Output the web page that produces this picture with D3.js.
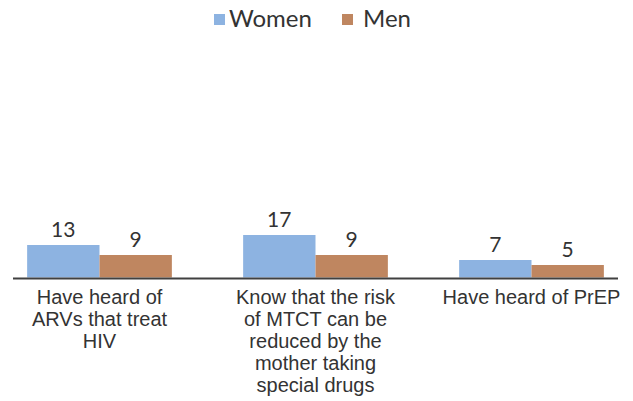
<!DOCTYPE html>
<html>
<head>
<meta charset="utf-8">
<script src="https://cdn.jsdelivr.net/npm/d3@7"></script>
<style>
  html, body { margin: 0; padding: 0; background: #fff; }
  svg { display: block; font-family: Lato, "Open Sans", sans-serif; }
</style>
</head>
<body>
<svg id="chart" width="633" height="401"></svg>
<script>
// Category labels, one entry per line of each wrapped label
const categories = [
  ["Have heard of", "ARVs that treat", "HIV"],
  ["Know that the risk", "of MTCT can be", "reduced by the", "mother taking", "special drugs"],
  ["Have heard of PrEP"]
];
const seriesNames = ["Women", "Men"];
const women = [13, 17, 7];
const men = [9, 9, 5];
const colors = ["#8DB3E1", "#BF8660"];

const svg = d3.select("#chart");
const textColor = "#333333";

const series = [women, men];
const groupIndex = categories.map((_, i) => i);

const x0 = d3.scaleBand()
  .domain(groupIndex)
  .range([-8.5, 639.5])
  .paddingInner(0.33)
  .paddingOuter(0.165);

const x1 = d3.scaleBand()
  .domain(d3.range(seriesNames.length))
  .range([0, x0.bandwidth()]);

const y = d3.scaleLinear()
  .domain([0, 100])
  .range([277.5, 27.5]);

// Bars
const groups = svg.append("g").selectAll("g")
  .data(groupIndex)
  .join("g")
  .attr("transform", i => `translate(${x0(i)},0)`);

groups.selectAll("rect")
  .data(i => series.map((s, k) => ({ k, v: s[i] })))
  .join("rect")
  .attr("x", d => x1(d.k))
  .attr("width", x1.bandwidth())
  .attr("y", d => y(d.v))
  .attr("height", d => y(0) - y(d.v))
  .attr("fill", d => colors[d.k]);

// Value labels
groups.selectAll("text")
  .data(i => series.map((s, k) => ({ k, v: s[i] })))
  .join("text")
  .attr("x", d => x1(d.k) + x1.bandwidth() / 2)
  .attr("y", d => y(d.v) - 8)
  .attr("text-anchor", "middle")
  .attr("font-size", 21)
  .attr("fill", textColor)
  .text(d => d.v);

// Category axis
const axis = d3.axisBottom(x0).tickSize(0).tickFormat("");
const axisG = svg.append("g")
  .attr("transform", `translate(0,${y(0)})`)
  .call(axis);
axisG.select(".domain").remove();
axisG.append("line")
  .attr("x1", 13).attr("x2", 618)
  .attr("y1", 1).attr("y2", 1)
  .attr("stroke", "#404040")
  .attr("stroke-width", 1.8);

axisG.selectAll(".tick").each(function (i) {
  const t = d3.select(this).append("text")
    .attr("text-anchor", "middle")
    .attr("font-size", 20)
    .attr("fill", textColor);
  categories[i].forEach((line, j) => {
    t.append("tspan")
      .attr("x", 0)
      .attr("y", 26 + j * 22)
      .text(line);
  });
});

// Legend
const legend = svg.append("g");
const legendItems = [
  { name: seriesNames[0], color: colors[0], sx: 214, tx: 229 },
  { name: seriesNames[1], color: colors[1], sx: 342, tx: 363 }
];
legendItems.forEach(d => {
  legend.append("rect")
    .attr("x", d.sx).attr("y", 14)
    .attr("width", 11).attr("height", 11)
    .attr("fill", d.color);
  legend.append("text")
    .attr("x", d.tx).attr("y", 27)
    .attr("font-size", 24)
    .attr("fill", textColor)
    .text(d.name);
});
</script>
</body>
</html>
